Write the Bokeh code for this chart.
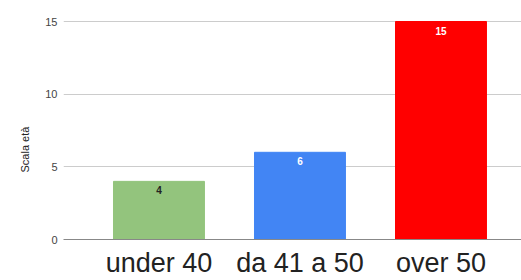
import math
from bokeh.plotting import figure
from bokeh.models import ColumnDataSource, FixedTicker, Range1d, Title
from bokeh.core.properties import value
from bokeh.embed import file_html
from bokeh.resources import INLINE

categories = ["under 40", "da 41 a 50", "over 50"]
counts = [4, 6, 15]
bar_colors = ["#93c47d", "#4285f4", "#ff0000"]
label_colors = ["#222222", "#ffffff", "#ffffff"]
y_ticks = [0, 5, 10, 15]

xs = list(range(len(categories)))
src = ColumnDataSource(dict(x=xs, top=counts, color=bar_colors,
                            lab=[str(c) for c in counts], lcolor=label_colors))

p = figure(width=521, height=280, output_backend="svg", toolbar_location=None,
           x_range=Range1d(-0.677, 2.571), y_range=Range1d(0, 16.445),
           min_border_left=63, min_border_right=0, min_border_top=0, min_border_bottom=41)
p.outline_line_color = None
p.background_fill_color = "white"
p.border_fill_color = "white"

p.vbar(x="x", top="top", width=0.645, bottom=0, color="color", source=src)
p.text(x="x", y="top", text="lab", text_color="lcolor", source=src,
       text_font=value("Liberation Sans"), text_font_size="10px", text_font_style="bold",
       text_align="center", text_baseline="top", y_offset=5)

# x axis
xa = p.xaxis[0]
xa.ticker = FixedTicker(ticks=xs)
xa.major_label_overrides = {i: c for i, c in enumerate(categories)}
xa.major_label_text_font = "Liberation Sans"
xa.major_label_text_font_size = "27px"
xa.major_label_text_color = "#222222"
xa.major_label_standoff = 2
xa.major_tick_line_color = None
xa.minor_tick_line_color = None
xa.axis_line_color = "#888888"
xa.axis_line_width = 1

# y axis
ya = p.yaxis[0]
ya.ticker = FixedTicker(ticks=y_ticks)
ya.major_label_text_font = "Liberation Sans"
ya.major_label_text_font_size = "11px"
ya.major_label_text_color = "#444444"
ya.major_label_standoff = 0
ya.major_tick_line_color = None
ya.minor_tick_line_color = None
ya.axis_line_color = None

p.xgrid.grid_line_color = None
p.ygrid.ticker = FixedTicker(ticks=[5, 10, 15])
p.ygrid.grid_line_color = "#cccccc"

ytitle = Title(text="Scala età", align="left", vertical_align="top", offset=67, standoff=19,
               text_font="Liberation Sans", text_font_size="11px",
               text_font_style="normal", text_color="#222222")
p.add_layout(ytitle, "left")

open("out.html", "w").write(file_html(p, INLINE))
